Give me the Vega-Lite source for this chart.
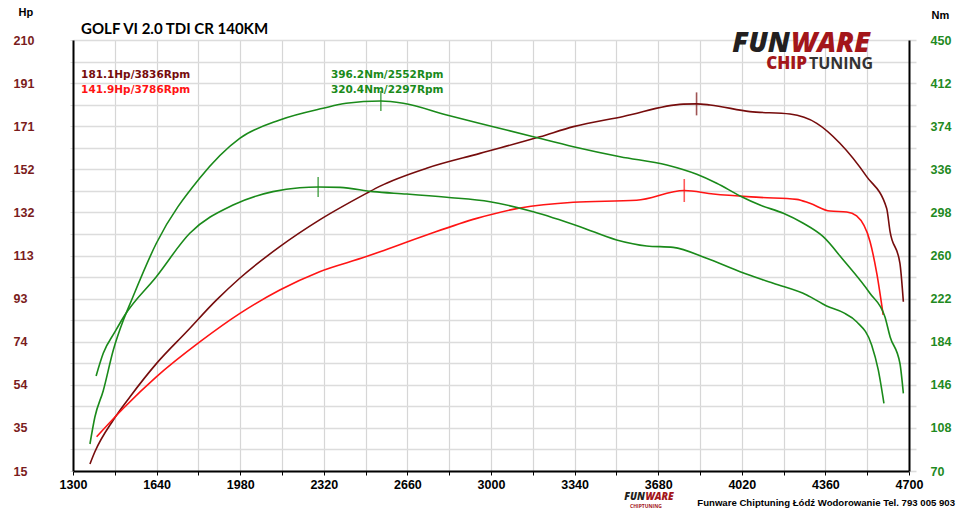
{
  "$schema": "https://vega.github.io/schema/vega-lite/v6.json",
  "width": 836,
  "height": 431,
  "autosize": "none",
  "padding": {"left": 73, "top": 40, "right": 51, "bottom": 41},
  "background": "white",
  "config": {"view": {"stroke": null}, "font": "Liberation Sans"},
  "datasets": {
    "hp": [
      {"rpm": 1369, "v": 18.2, "s": "hp_tuned"},
      {"rpm": 1389, "v": 23.7, "s": "hp_tuned"},
      {"rpm": 1464, "v": 38.1, "s": "hp_tuned"},
      {"rpm": 1532, "v": 48.6, "s": "hp_tuned"},
      {"rpm": 1640, "v": 63.7, "s": "hp_tuned"},
      {"rpm": 1762, "v": 78.0, "s": "hp_tuned"},
      {"rpm": 1884, "v": 92.4, "s": "hp_tuned"},
      {"rpm": 1978, "v": 102.2, "s": "hp_tuned"},
      {"rpm": 2141, "v": 116.5, "s": "hp_tuned"},
      {"rpm": 2303, "v": 128.6, "s": "hp_tuned"},
      {"rpm": 2493, "v": 140.6, "s": "hp_tuned"},
      {"rpm": 2549, "v": 143.9, "s": "hp_tuned"},
      {"rpm": 2738, "v": 152.0, "s": "hp_tuned"},
      {"rpm": 2955, "v": 158.7, "s": "hp_tuned"},
      {"rpm": 3199, "v": 166.2, "s": "hp_tuned"},
      {"rpm": 3335, "v": 170.8, "s": "hp_tuned"},
      {"rpm": 3538, "v": 175.4, "s": "hp_tuned"},
      {"rpm": 3782, "v": 181.0, "s": "hp_tuned"},
      {"rpm": 3836, "v": 181.1, "s": "hp_tuned"},
      {"rpm": 3891, "v": 180.6, "s": "hp_tuned"},
      {"rpm": 4053, "v": 177.6, "s": "hp_tuned"},
      {"rpm": 4216, "v": 176.5, "s": "hp_tuned"},
      {"rpm": 4325, "v": 172.3, "s": "hp_tuned"},
      {"rpm": 4419, "v": 163.3, "s": "hp_tuned"},
      {"rpm": 4528, "v": 148.2, "s": "hp_tuned"},
      {"rpm": 4609, "v": 133.9, "s": "hp_tuned"},
      {"rpm": 4623, "v": 123.3, "s": "hp_tuned"},
      {"rpm": 4663, "v": 109.0, "s": "hp_tuned"},
      {"rpm": 4677, "v": 91.6, "s": "hp_tuned"},
      {"rpm": 1396, "v": 30.5, "s": "hp_stock"},
      {"rpm": 1505, "v": 43.4, "s": "hp_stock"},
      {"rpm": 1640, "v": 57.7, "s": "hp_stock"},
      {"rpm": 1817, "v": 73.5, "s": "hp_stock"},
      {"rpm": 1979, "v": 86.3, "s": "hp_stock"},
      {"rpm": 2141, "v": 96.9, "s": "hp_stock"},
      {"rpm": 2303, "v": 105.2, "s": "hp_stock"},
      {"rpm": 2493, "v": 112.0, "s": "hp_stock"},
      {"rpm": 2549, "v": 114.2, "s": "hp_stock"},
      {"rpm": 2738, "v": 121.8, "s": "hp_stock"},
      {"rpm": 2942, "v": 129.3, "s": "hp_stock"},
      {"rpm": 3118, "v": 134.0, "s": "hp_stock"},
      {"rpm": 3335, "v": 136.6, "s": "hp_stock"},
      {"rpm": 3592, "v": 137.5, "s": "hp_stock"},
      {"rpm": 3786, "v": 141.9, "s": "hp_stock"},
      {"rpm": 3904, "v": 140.3, "s": "hp_stock"},
      {"rpm": 4094, "v": 138.8, "s": "hp_stock"},
      {"rpm": 4243, "v": 137.9, "s": "hp_stock"},
      {"rpm": 4297, "v": 136.1, "s": "hp_stock"},
      {"rpm": 4379, "v": 132.6, "s": "hp_stock"},
      {"rpm": 4447, "v": 132.2, "s": "hp_stock"},
      {"rpm": 4487, "v": 130.4, "s": "hp_stock"},
      {"rpm": 4542, "v": 118.6, "s": "hp_stock"},
      {"rpm": 4569, "v": 104.4, "s": "hp_stock"},
      {"rpm": 4595, "v": 85.6, "s": "hp_stock"}
    ],
    "nm": [
      {"rpm": 1369, "v": 93.8, "s": "nm_tuned"},
      {"rpm": 1389, "v": 117.6, "s": "nm_tuned"},
      {"rpm": 1423, "v": 140.8, "s": "nm_tuned"},
      {"rpm": 1464, "v": 176.7, "s": "nm_tuned"},
      {"rpm": 1505, "v": 203.1, "s": "nm_tuned"},
      {"rpm": 1531, "v": 216.9, "s": "nm_tuned"},
      {"rpm": 1639, "v": 270.8, "s": "nm_tuned"},
      {"rpm": 1815, "v": 328.1, "s": "nm_tuned"},
      {"rpm": 1978, "v": 363.3, "s": "nm_tuned"},
      {"rpm": 2141, "v": 379.5, "s": "nm_tuned"},
      {"rpm": 2317, "v": 389.8, "s": "nm_tuned"},
      {"rpm": 2411, "v": 394.2, "s": "nm_tuned"},
      {"rpm": 2552, "v": 396.2, "s": "nm_tuned"},
      {"rpm": 2643, "v": 394.2, "s": "nm_tuned"},
      {"rpm": 2820, "v": 383.9, "s": "nm_tuned"},
      {"rpm": 3009, "v": 373.6, "s": "nm_tuned"},
      {"rpm": 3172, "v": 364.7, "s": "nm_tuned"},
      {"rpm": 3335, "v": 355.9, "s": "nm_tuned"},
      {"rpm": 3525, "v": 347.1, "s": "nm_tuned"},
      {"rpm": 3715, "v": 339.8, "s": "nm_tuned"},
      {"rpm": 3837, "v": 331.6, "s": "nm_tuned"},
      {"rpm": 3918, "v": 323.7, "s": "nm_tuned"},
      {"rpm": 4013, "v": 312.5, "s": "nm_tuned"},
      {"rpm": 4094, "v": 304.5, "s": "nm_tuned"},
      {"rpm": 4189, "v": 297.2, "s": "nm_tuned"},
      {"rpm": 4270, "v": 288.4, "s": "nm_tuned"},
      {"rpm": 4351, "v": 276.6, "s": "nm_tuned"},
      {"rpm": 4433, "v": 256.0, "s": "nm_tuned"},
      {"rpm": 4541, "v": 226.7, "s": "nm_tuned"},
      {"rpm": 4602, "v": 206.0, "s": "nm_tuned"},
      {"rpm": 4623, "v": 188.4, "s": "nm_tuned"},
      {"rpm": 4663, "v": 165.0, "s": "nm_tuned"},
      {"rpm": 4677, "v": 138.5, "s": "nm_tuned"},
      {"rpm": 1394, "v": 153.8, "s": "nm_stock"},
      {"rpm": 1423, "v": 173.8, "s": "nm_stock"},
      {"rpm": 1471, "v": 192.8, "s": "nm_stock"},
      {"rpm": 1511, "v": 207.5, "s": "nm_stock"},
      {"rpm": 1639, "v": 241.3, "s": "nm_stock"},
      {"rpm": 1775, "v": 279.6, "s": "nm_stock"},
      {"rpm": 1951, "v": 304.5, "s": "nm_stock"},
      {"rpm": 2113, "v": 316.3, "s": "nm_stock"},
      {"rpm": 2222, "v": 319.8, "s": "nm_stock"},
      {"rpm": 2297, "v": 320.4, "s": "nm_stock"},
      {"rpm": 2386, "v": 320.1, "s": "nm_stock"},
      {"rpm": 2521, "v": 316.3, "s": "nm_stock"},
      {"rpm": 2657, "v": 314.2, "s": "nm_stock"},
      {"rpm": 2820, "v": 311.3, "s": "nm_stock"},
      {"rpm": 2996, "v": 307.4, "s": "nm_stock"},
      {"rpm": 3172, "v": 298.6, "s": "nm_stock"},
      {"rpm": 3362, "v": 285.4, "s": "nm_stock"},
      {"rpm": 3511, "v": 273.7, "s": "nm_stock"},
      {"rpm": 3633, "v": 268.4, "s": "nm_stock"},
      {"rpm": 3741, "v": 267.2, "s": "nm_stock"},
      {"rpm": 3877, "v": 257.5, "s": "nm_stock"},
      {"rpm": 4013, "v": 245.7, "s": "nm_stock"},
      {"rpm": 4148, "v": 235.5, "s": "nm_stock"},
      {"rpm": 4284, "v": 225.2, "s": "nm_stock"},
      {"rpm": 4365, "v": 215.5, "s": "nm_stock"},
      {"rpm": 4433, "v": 209.6, "s": "nm_stock"},
      {"rpm": 4487, "v": 201.6, "s": "nm_stock"},
      {"rpm": 4548, "v": 181.1, "s": "nm_stock"},
      {"rpm": 4575, "v": 159.1, "s": "nm_stock"},
      {"rpm": 4598, "v": 129.7, "s": "nm_stock"}
    ],
    "peaksHp": [
      {"rpm": 3836, "v": 181.1, "s": "hp_tuned"},
      {"rpm": 3786, "v": 141.9, "s": "hp_stock"}
    ],
    "peaksNm": [
      {"rpm": 2552, "v": 396.2, "s": "nm_tuned"},
      {"rpm": 2297, "v": 320.4, "s": "nm_stock"}
    ],
    "notes": [
      {"rpm": 1333, "v": 194.2, "s": "hp_tuned", "label": "181.1Hp/3836Rpm"},
      {"rpm": 1333, "v": 187.4, "s": "hp_stock", "label": "141.9Hp/3786Rpm"},
      {"rpm": 2349, "v": 194.2, "s": "nm_tuned", "label": "396.2Nm/2552Rpm"},
      {"rpm": 2349, "v": 187.4, "s": "nm_stock", "label": "320.4Nm/2297Rpm"}
    ]
  },
  "encoding": {
    "x": {
      "field": "rpm",
      "type": "quantitative",
      "scale": {"domain": [1300, 4700], "nice": false, "zero": false},
      "axis": {
        "title": null,
        "values": [1300, 1470, 1640, 1810, 1980, 2150, 2320, 2490, 2660, 2830, 3000, 3170, 3340, 3510, 3680, 3850, 4020, 4190, 4360, 4530, 4700],
        "labelExpr": "(datum.value - 1300) % 340 === 0 ? format(datum.value, 'd') : ''",
        "labelOverlap": false,
        "labelFlush": false,
        "grid": true,
        "gridColor": "#d6d6d6",
        "gridWidth": 1.2,
        "domainColor": "black",
        "domainWidth": 2,
        "tickColor": "black",
        "tickSize": 4,
        "labelDx": -9,
        "labelPadding": 3,
        "labelFont": "Liberation Sans",
        "labelFontSize": 12.5,
        "labelFontWeight": "bold",
        "labelColor": "black"
      }
    }
  },
  "layer": [
    {
      "encoding": {
        "y": {
          "field": "v",
          "type": "quantitative",
          "scale": {"domain": [15, 210], "nice": false, "zero": false},
          "axis": {
            "orient": "left",
            "values": [15, 24.75, 34.5, 44.25, 54, 63.75, 73.5, 83.25, 93, 102.75, 112.5, 122.25, 132, 141.75, 151.5, 161.25, 171, 180.75, 190.5, 200.25, 210],
            "labelExpr": "(datum.value - 15) % 19.5 === 0 ? format(datum.value, '.0f') : ''",
            "labelOverlap": false,
            "labelFlush": false,
            "grid": true,
            "gridColor": "#dcdcdc",
            "gridWidth": 1.6,
            "tickColor": "#dcdcdc",
            "tickSize": 3,
            "domainColor": "black",
            "domainWidth": 2,
            "labelAlign": "left",
            "labelBaseline": "middle",
            "labelPadding": 57,
            "labelFont": "Liberation Sans",
            "labelFontSize": 12.5,
            "labelFontWeight": "bold",
            "labelColor": "#7a1c1c",
            "title": "Hp",
            "titleAngle": 0,
            "titleX": -55,
            "titleY": -28,
            "titleAlign": "left",
            "titleBaseline": "middle",
            "titleFont": "Liberation Sans",
            "titleFontSize": 11,
            "titleFontWeight": "bold",
            "titleColor": "black"
          }
        }
      },
      "layer": [
        {
          "data": {"name": "hp"},
          "mark": {"type": "line", "interpolate": "monotone", "strokeWidth": 1.6, "strokeJoin": "round"},
          "encoding": {
            "color": {
              "field": "s",
              "type": "nominal",
              "scale": {"domain": ["hp_tuned", "hp_stock", "nm_tuned", "nm_stock"], "range": ["#760c0c", "#ff1414", "#1a8a1a", "#1a8a1a"]},
              "legend": null
            }
          }
        },
        {
          "data": {"name": "peaksHp"},
          "mark": {"type": "tick", "orient": "vertical", "size": 23, "thickness": 1.6},
          "encoding": {"color": {"field": "s", "type": "nominal", "legend": null}}
        },
        {
          "data": {"name": "notes"},
          "mark": {"type": "text", "align": "left", "baseline": "middle", "font": "DejaVu Sans", "fontSize": 10.5, "fontWeight": "bold"},
          "encoding": {
            "text": {"field": "label"},
            "color": {"field": "s", "type": "nominal", "legend": null}
          }
        },
        {
          "data": {"values": [{"rpm": 1333, "v": 212.7, "label": "GOLF VI 2.0 TDI CR 140KM"}]},
          "mark": {"type": "text", "align": "left", "baseline": "alphabetic", "font": "Lato", "fontSize": 15, "fontWeight": "bold", "color": "black"},
          "encoding": {"text": {"field": "label"}}
        },
        {
          "data": {"values": [{"rpm": 4216, "v": 204.4, "label": "FUN"}]},
          "mark": {"type": "text", "align": "right", "baseline": "alphabetic", "font": "Open Sans", "fontSize": 28, "fontWeight": 800, "fontStyle": "italic", "color": "#231f20"},
          "encoding": {"text": {"field": "label"}}
        },
        {
          "data": {"values": [{"rpm": 4220, "v": 204.4, "label": "WARE"}]},
          "mark": {"type": "text", "align": "left", "baseline": "alphabetic", "font": "Open Sans", "fontSize": 28, "fontWeight": 800, "fontStyle": "italic", "color": "#a3161a", "letterSpacing": 1.5},
          "encoding": {"text": {"field": "label"}}
        },
        {
          "data": {"values": [{"rpm": 4285, "v": 196.9, "label": "CHIP"}]},
          "mark": {"type": "text", "align": "right", "baseline": "alphabetic", "font": "Open Sans", "fontSize": 17, "fontWeight": 800, "color": "#a3161a", "letterSpacing": 1.5},
          "encoding": {"text": {"field": "label"}}
        },
        {
          "data": {"values": [{"rpm": 4293, "v": 196.9, "label": "TUNING"}]},
          "mark": {"type": "text", "align": "left", "baseline": "alphabetic", "font": "Open Sans", "fontSize": 16, "fontWeight": "bold", "color": "#333333"},
          "encoding": {"text": {"field": "label"}}
        },
        {
          "data": {"values": [{"rpm": 3626, "v": 1.9, "label": "FUN"}]},
          "mark": {"type": "text", "align": "right", "baseline": "alphabetic", "font": "Open Sans", "fontSize": 10, "fontWeight": 800, "fontStyle": "italic", "color": "#231f20"},
          "encoding": {"text": {"field": "label"}}
        },
        {
          "data": {"values": [{"rpm": 3628, "v": 1.9, "label": "WARE"}]},
          "mark": {"type": "text", "align": "left", "baseline": "alphabetic", "font": "Open Sans", "fontSize": 10, "fontWeight": 800, "fontStyle": "italic", "color": "#a3161a"},
          "encoding": {"text": {"field": "label"}}
        },
        {
          "data": {"values": [{"rpm": 3630, "v": -1.8, "label": "CHIPTUNING"}]},
          "mark": {"type": "text", "align": "center", "baseline": "alphabetic", "font": "Open Sans", "fontSize": 5, "fontWeight": "bold", "color": "#a3161a"},
          "encoding": {"text": {"field": "label"}}
        },
        {
          "data": {"values": [{"rpm": 4887, "v": 0.5, "label": "Funware Chiptuning Łódź Wodorowanie Tel. 793 005 903"}]},
          "mark": {"type": "text", "align": "right", "baseline": "middle", "font": "Liberation Sans", "fontSize": 9.6, "fontWeight": "bold", "color": "black"},
          "encoding": {"text": {"field": "label"}}
        }
      ]
    },
    {
      "encoding": {
        "y": {
          "field": "v",
          "type": "quantitative",
          "scale": {"domain": [70, 450], "nice": false, "zero": false},
          "axis": {
            "orient": "right",
            "values": [70, 89, 108, 127, 146, 165, 184, 203, 222, 241, 260, 279, 298, 317, 336, 355, 374, 393, 412, 431, 450],
            "labelExpr": "(datum.value - 70) % 38 === 0 ? format(datum.value, 'd') : ''",
            "labelOverlap": false,
            "labelFlush": false,
            "grid": false,
            "tickColor": "#dcdcdc",
            "tickSize": 7,
            "tickWidth": 1.6,
            "domainColor": "black",
            "domainWidth": 2,
            "labelAlign": "left",
            "labelBaseline": "middle",
            "labelPadding": 14,
            "labelFont": "Liberation Sans",
            "labelFontSize": 12.5,
            "labelFontWeight": "bold",
            "labelColor": "#1f8a1f",
            "title": "Nm",
            "titleAngle": 0,
            "titleX": 22,
            "titleY": -25,
            "titleAlign": "left",
            "titleBaseline": "middle",
            "titleFont": "Liberation Sans",
            "titleFontSize": 11,
            "titleFontWeight": "bold",
            "titleColor": "black"
          }
        }
      },
      "layer": [
        {
          "data": {"name": "nm"},
          "mark": {"type": "line", "interpolate": "monotone", "strokeWidth": 1.6, "strokeJoin": "round"},
          "encoding": {"color": {"field": "s", "type": "nominal", "legend": null}}
        },
        {
          "data": {"name": "peaksNm"},
          "mark": {"type": "tick", "orient": "vertical", "size": 20, "thickness": 1.6},
          "encoding": {"color": {"field": "s", "type": "nominal", "legend": null}}
        }
      ]
    }
  ],
  "resolve": {"scale": {"y": "independent"}, "axis": {"y": "independent"}}
}
